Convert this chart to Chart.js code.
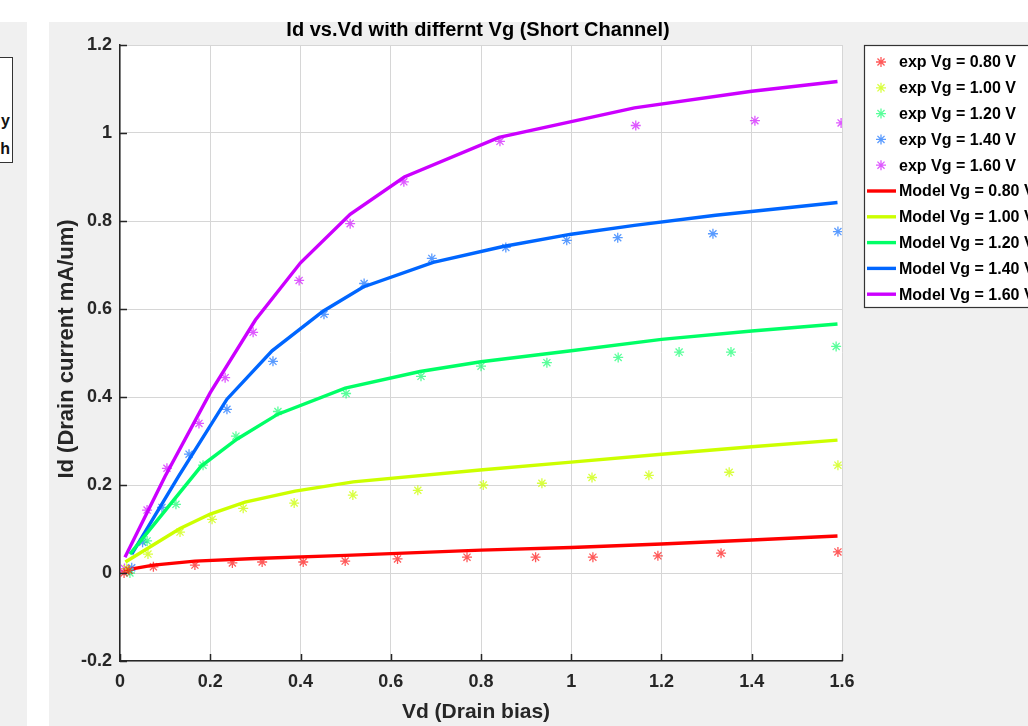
<!DOCTYPE html>
<html>
<head>
<meta charset="utf-8">
<script src="https://cdn.jsdelivr.net/npm/chart.js@4.4.0/dist/chart.umd.min.js"></script>
<style>
  html, body { margin: 0; padding: 0; background: #fff; }
  body { width: 1028px; height: 726px; position: relative; overflow: hidden; font-family: 'Liberation Sans', Arial, sans-serif; }
  #sidePanel { position: absolute; left: 0; top: 22px; width: 27px; height: 704px; background: #f0f0f0; overflow: hidden; }
  #sideBox { position: absolute; left: -60px; top: 35px; width: 71px; height: 104px; border: 1.5px solid #333; background: #fff; }
  #sideBox span { position: absolute; right: 2px; font-weight: bold; font-size: 16px; color: #111; }
  #mainPanel { position: absolute; left: 49px; top: 22px; width: 979px; height: 704px; background: #f0f0f0; }
</style>
</head>
<body>
<div id="sidePanel">
  <div id="sideBox"><span style="top:54px">y</span><span style="top:82px">h</span></div>
</div>
<div id="mainPanel">
  <canvas id="ivChart" width="979" height="704"></canvas>
</div>
<script>
// gate voltages and colours
const vgLabels = ['0.80', '1.00', '1.20', '1.40', '1.60'];
const seriesColors = ['#ff0000', '#ccff00', '#00ff66', '#0066ff', '#cc00ff'];
const pointColors = ['rgba(255,0,0,0.65)', 'rgba(204,255,0,0.75)', 'rgba(0,255,102,0.65)', 'rgba(0,102,255,0.65)', 'rgba(204,0,255,0.65)'];

// measured points (Vd, Id)
const expVd080 = [0.009, 0.02, 0.074, 0.166, 0.249, 0.315, 0.406, 0.499, 0.615, 0.769, 0.921, 1.048, 1.192, 1.332, 1.591];
const expId080 = [0.0, 0.006, 0.014, 0.018, 0.023, 0.025, 0.025, 0.027, 0.032, 0.036, 0.036, 0.036, 0.039, 0.045, 0.048];
const expVd100 = [0.015, 0.062, 0.133, 0.204, 0.273, 0.386, 0.516, 0.66, 0.805, 0.935, 1.046, 1.172, 1.35, 1.591];
const expId100 = [0.01, 0.043, 0.093, 0.122, 0.147, 0.159, 0.177, 0.188, 0.2, 0.204, 0.217, 0.222, 0.229, 0.245];
const expVd120 = [0.022, 0.06, 0.124, 0.184, 0.257, 0.35, 0.501, 0.667, 0.80, 0.946, 1.104, 1.239, 1.354, 1.587];
const expId120 = [0.0, 0.073, 0.156, 0.245, 0.311, 0.367, 0.408, 0.447, 0.47, 0.478, 0.49, 0.502, 0.502, 0.515];
const expVd140 = [0.026, 0.05, 0.093, 0.153, 0.237, 0.339, 0.452, 0.541, 0.691, 0.855, 0.99, 1.103, 1.314, 1.591];
const expId140 = [0.012, 0.07, 0.149, 0.27, 0.372, 0.481, 0.588, 0.658, 0.715, 0.74, 0.756, 0.762, 0.771, 0.776];
const expVd160 = [0.01, 0.06, 0.104, 0.175, 0.233, 0.295, 0.397, 0.51, 0.629, 0.842, 1.143, 1.407, 1.598];
const expId160 = [0.01, 0.143, 0.238, 0.34, 0.444, 0.547, 0.665, 0.794, 0.889, 0.981, 1.017, 1.028, 1.023];

// model curves (Vd, Id)
const modelVd080 = [0.03, 0.074, 0.166, 0.3, 0.5, 0.8, 1.0, 1.2, 1.4, 1.59];
const modelId080 = [0.01, 0.018, 0.027, 0.033, 0.04, 0.052, 0.058, 0.066, 0.075, 0.084];
const modelVd100 = [0.012, 0.133, 0.2, 0.277, 0.388, 0.517, 0.798, 1.0, 1.2, 1.4, 1.59];
const modelId100 = [0.025, 0.101, 0.134, 0.161, 0.186, 0.207, 0.234, 0.252, 0.27, 0.287, 0.302];
const modelVd120 = [0.022, 0.18, 0.259, 0.35, 0.499, 0.665, 0.8, 1.0, 1.2, 1.4, 1.59];
const modelId120 = [0.043, 0.243, 0.304, 0.361, 0.42, 0.458, 0.48, 0.505, 0.531, 0.55, 0.566];
const modelVd140 = [0.026, 0.13, 0.237, 0.337, 0.45, 0.539, 0.694, 0.849, 1.0, 1.14, 1.32, 1.59];
const modelId140 = [0.043, 0.22, 0.395, 0.505, 0.595, 0.65, 0.706, 0.742, 0.77, 0.79, 0.813, 0.842];
const modelVd160 = [0.011, 0.1, 0.2, 0.3, 0.4, 0.51, 0.63, 0.84, 1.14, 1.4, 1.59];
const modelId160 = [0.036, 0.22, 0.41, 0.575, 0.705, 0.815, 0.90, 0.99, 1.057, 1.095, 1.117];

const expVd = [expVd080, expVd100, expVd120, expVd140, expVd160];
const expId = [expId080, expId100, expId120, expId140, expId160];
const modelVd = [modelVd080, modelVd100, modelVd120, modelVd140, modelVd160];
const modelId = [modelId080, modelId100, modelId120, modelId140, modelId160];

const toXY = (xs, ys) => xs.map((x, i) => ({ x: x, y: ys[i] }));

const datasets = [];
vgLabels.forEach((vg, i) => {
  datasets.push({
    label: 'exp Vg = ' + vg + ' V',
    kind: 'exp',
    data: toXY(expVd[i], expId[i]),
    showLine: false,
    pointStyle: 'star',
    pointRadius: 5,
    pointBorderWidth: 1.3,
    borderColor: pointColors[i],
    backgroundColor: pointColors[i],
    order: 2,
  });
});
vgLabels.forEach((vg, i) => {
  datasets.push({
    label: 'Model Vg = ' + vg + ' V',
    kind: 'model',
    data: toXY(modelVd[i], modelId[i]),
    showLine: true,
    borderColor: seriesColors[i],
    backgroundColor: seriesColors[i],
    borderWidth: 3.4,
    pointRadius: 0,
    tension: 0,
    order: 1,
  });
});

const FONT = "'Liberation Sans', Arial, sans-serif";

// white plot box
const plotBackground = {
  id: 'plotBackground',
  beforeDraw(chart) {
    const { ctx, chartArea: a } = chart;
    ctx.save();
    ctx.fillStyle = '#ffffff';
    ctx.fillRect(a.left, a.top, a.right - a.left, a.bottom - a.top);
    ctx.restore();
  },
};

// matlab style ticks pointing into the plot, titles and the legend box
const decorations = {
  id: 'decorations',
  afterDraw(chart) {
    const { ctx, chartArea: a } = chart;
    const xs = chart.scales.x, ys = chart.scales.y;
    ctx.save();
    ctx.strokeStyle = '#262626';
    ctx.lineWidth = 1.5;
    ctx.beginPath();
    xs.ticks.forEach(t => {
      const px = Math.round(xs.getPixelForValue(t.value)) + 0.5;
      ctx.moveTo(px, a.bottom);
      ctx.lineTo(px, a.bottom - 7);
    });
    ys.ticks.forEach(t => {
      const py = Math.round(ys.getPixelForValue(t.value)) + 0.5;
      ctx.moveTo(a.left, py);
      ctx.lineTo(a.left + 7, py);
    });
    ctx.stroke();

    // title
    ctx.fillStyle = '#000';
    ctx.textAlign = 'center';
    ctx.textBaseline = 'middle';
    ctx.font = 'bold 20px ' + FONT;
    ctx.fillText('Id vs.Vd with differnt Vg (Short Channel)', 429, 8);

    // axis titles
    ctx.fillStyle = '#262626';
    ctx.font = 'bold 21px ' + FONT;
    ctx.fillText('Vd (Drain bias)', 427, 690);
    ctx.save();
    ctx.translate(18, 327);
    ctx.rotate(-Math.PI / 2);
    ctx.font = 'bold 22px ' + FONT;
    ctx.fillText('Id (Drain current mA/um)', 0, 0);
    ctx.restore();

    // legend
    const lx = 815, ly = 23, lw = 220, lh = 262;
    ctx.fillStyle = '#fff';
    ctx.fillRect(lx, ly, lw, lh);
    ctx.strokeStyle = '#333';
    ctx.lineWidth = 1.2;
    ctx.strokeRect(lx + 0.5, ly + 0.5, lw, lh);
    ctx.font = 'bold 16px ' + FONT;
    ctx.textAlign = 'left';
    chart.data.datasets.forEach((ds, i) => {
      const ry = 40 + i * 25.8;
      if (ds.kind === 'exp') {
        ctx.strokeStyle = ds.borderColor;
        ctx.fillStyle = ds.borderColor;
        ctx.lineWidth = 1.3;
        Chart.helpers.drawPoint(ctx, { pointStyle: 'star', radius: 5, rotation: 0, borderWidth: 1.3 }, 832, ry);
      } else {
        ctx.strokeStyle = ds.borderColor;
        ctx.lineWidth = 3.4;
        ctx.beginPath();
        ctx.moveTo(818, ry);
        ctx.lineTo(847, ry);
        ctx.stroke();
      }
      ctx.fillStyle = '#000';
      ctx.fillText(ds.label, 850, ry + 1);
    });
    ctx.restore();
  },
};

const formatTick = v => String(Number(v.toFixed(1)));

new Chart(document.getElementById('ivChart'), {
  type: 'scatter',
  data: { datasets: datasets },
  plugins: [plotBackground, decorations],
  options: {
    responsive: false,
    animation: false,
    layout: { padding: { top: 23, right: 186, left: 0, bottom: 0 } },
    plugins: {
      legend: { display: false },
      title: { display: false },
      tooltip: { enabled: false },
    },
    scales: {
      x: {
        type: 'linear',
        min: 0,
        max: 1.6,
        afterFit: s => { s.height = 65; },
        grid: { color: '#d6d6d6', lineWidth: 1, drawTicks: false },
        border: { color: '#262626', width: 1.5 },
        ticks: {
          stepSize: 0.2,
          padding: 10,
          color: '#262626',
          font: { family: FONT, size: 18, weight: 'bold' },
          callback: formatTick,
          maxRotation: 0,
        },
      },
      y: {
        type: 'linear',
        min: -0.2,
        max: 1.2,
        afterFit: s => { s.width = 71; },
        grid: { color: '#d6d6d6', lineWidth: 1, drawTicks: false },
        border: { color: '#262626', width: 1.5 },
        ticks: {
          stepSize: 0.2,
          padding: 8,
          color: '#262626',
          font: { family: FONT, size: 18, weight: 'bold' },
          callback: formatTick,
        },
      },
    },
  },
});
</script>
</body>
</html>
